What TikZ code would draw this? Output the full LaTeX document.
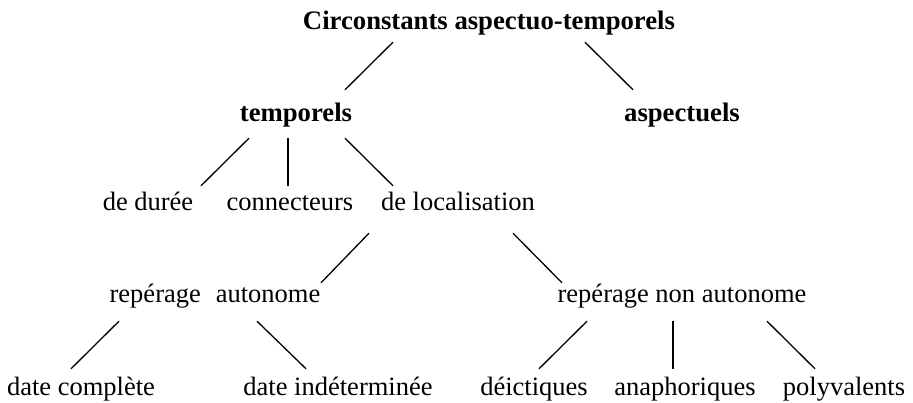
\documentclass[tikz,border=0pt]{standalone}
\usepackage{fontspec}
\setmainfont{Liberation Serif}

\begin{document}
\begin{tikzpicture}[x=1pt, y=-1pt,
  lbl/.style={anchor=base, inner sep=0pt, text height=18pt, text depth=6pt,
    font=\fontsize{26.5}{30}\selectfont},
  head/.style={lbl, font=\fontsize{26.7}{30}\selectfont\bfseries}]

\useasboundingbox (0,0) rectangle (913,403);

% rows (baselines)
\def \ra {30}
\def \rb {122}
\def \rc {211}
\def \rd {303}
\def \re {395}

\node[head] (root) at (489,\ra) {Circonstants aspectuo-temporels};

\node[head] (temp) at (296,\rb) {temporels};
\node[head] (asp)  at (682,\rb) {aspectuels};

\node[lbl] (duree) at (148,\rc) {de durée};
\node[lbl] (conn)  at (290,\rc) {connecteurs};
\node[lbl] (loc)   at (458,\rc) {de localisation};

\node[lbl] (auto)    at (215,\rd) {repérage\hspace{15pt}autonome};
\node[lbl] (nonauto) at (682,\rd) {repérage non autonome};

\node[lbl] (complete) at (81,\re)  {date complète};
\node[lbl] (indet)    at (338,\re) {date indéterminée};
\node[lbl] (deict)    at (534,\re) {déictiques};
\node[lbl] (anaph)    at (685,\re) {anaphoriques};
\node[lbl] (poly)     at (844,\re) {polyvalents};

% branches, from parent.south to child.north
\foreach \p/\c/\u/\v in {
  root/temp/{(-96,6)}/{(49,-14)},
  root/asp/{(96,6)}/{(-49,-14)},
  temp/duree/{(-47,10)}/{(53,-7)},
  temp/conn/{(-8,10)}/{(-2,-7)},
  temp/loc/{(49,10)}/{(-65,-7)},
  loc/auto/{(-89,16)}/{(106,-2)},
  loc/nonauto/{(55,16)}/{(-120,-2)},
  auto/complete/{(-96,12)}/{(-10,-8)},
  auto/indet/{(42,12)}/{(-32,-8)},
  nonauto/deict/{(-95,12)}/{(5,-8)},
  nonauto/anaph/{(-9,12)}/{(-12,-8)},
  nonauto/poly/{(85,12)}/{(-29,-8)}}
{
  \draw[line width=1.3pt] ([shift={\u}]\p.south) -- ([shift={\v}]\c.north);
}

\end{tikzpicture}
\end{document}
